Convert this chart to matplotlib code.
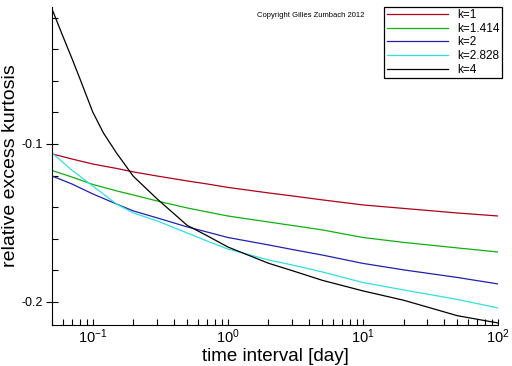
import numpy as np
import matplotlib
matplotlib.use("Agg")
import matplotlib.pyplot as plt
from matplotlib.ticker import MultipleLocator, LogLocator, FixedLocator

plt.rcParams["font.family"] = ["Liberation Sans", "DejaVu Sans"]
plt.rcParams["axes.unicode_minus"] = False
plt.rcParams["mathtext.default"] = "regular"

# time interval in days
dt = [0.05, 0.07, 0.1, 0.15, 0.2, 0.3, 0.5, 0.7, 1, 2, 3, 5, 10, 20, 50, 100]
dt_k4 = [0.05, 0.06, 0.07, 0.08, 0.1, 0.12, 0.15, 0.2, 0.3, 0.5, 0.7, 1, 2, 3,
         5, 10, 20, 50, 100]

# relative excess kurtosis for each k
k1 = [-0.1063, -0.1095, -0.1127, -0.1155, -0.1177, -0.1203, -0.1234, -0.1253,
      -0.1275, -0.1310, -0.1329, -0.1354, -0.1386, -0.1408, -0.1437, -0.1456]
k1414 = [-0.1168, -0.1209, -0.1256, -0.1297, -0.1323, -0.1361, -0.1405, -0.1430,
         -0.1456, -0.1494, -0.1516, -0.1544, -0.1592, -0.1623, -0.1658, -0.1684]
k2 = [-0.1203, -0.1253, -0.1316, -0.1380, -0.1424, -0.1468, -0.1525, -0.1557,
      -0.1592, -0.1639, -0.1668, -0.1703, -0.1756, -0.1797, -0.1845, -0.1886]
k2828 = [-0.1057, -0.1165, -0.1266, -0.1380, -0.1437, -0.1487, -0.1563, -0.1614,
         -0.1665, -0.1734, -0.1766, -0.1810, -0.1877, -0.1924, -0.1984, -0.2038]
k4 = [-0.0146, -0.0316, -0.0456, -0.0582, -0.0797, -0.0930, -0.1057, -0.1205,
      -0.1348, -0.1515, -0.1580, -0.1652, -0.1755, -0.1802, -0.1863, -0.1930,
      -0.1989, -0.2087, -0.2133]

labels = ["k=1", "k=1.414", "k=2", "k=2.828", "k=4"]
colors = ["#b0001a", "#10b010", "#2020b0", "#30e0e0", "black"]

fig = plt.figure(figsize=(5.12, 3.66), dpi=100)
ax = fig.add_axes([0.1016, 0.112, 0.871, 0.869])

xs = [dt, dt, dt, dt, dt_k4]
for x, y, lab, c in zip(xs, [k1, k1414, k2, k2828, k4], labels, colors):
    ax.plot(x, y, color=c, lw=0.9, label=lab)

ax.set_xscale("log")
ax.set_xlim(0.05, 100)
ax.set_ylim(-0.2146, -0.0133)

ax.yaxis.set_major_locator(FixedLocator([-0.2, -0.1]))
ax.yaxis.set_minor_locator(MultipleLocator(0.02))
ax.set_yticklabels(["-0.2", "-0.1"])
ax.xaxis.set_major_locator(FixedLocator([0.1, 1, 10, 100]))
ax.xaxis.set_minor_locator(LogLocator(base=10, subs=np.arange(2, 10)))
ax.set_xticklabels(["$10^{-1}$", "$10^{0}$", "$10^{1}$", "$10^{2}$"])

ax.spines["top"].set_visible(False)
ax.spines["right"].set_visible(False)
ax.tick_params(which="both", width=0.8)
ax.tick_params(axis="x", which="both", direction="in", length=4.5,
               labelsize=10.5, pad=2)
ax.tick_params(axis="y", which="major", direction="inout", length=9,
               labelsize=9, pad=2)
ax.tick_params(axis="y", which="minor", direction="in", length=4)

ax.set_xlabel("time interval [day]", fontsize=13.5)
ax.xaxis.set_label_coords(0.5, -0.071)
ax.set_ylabel("relative excess kurtosis", fontsize=14, labelpad=2)

leg = fig.legend(loc="upper right", bbox_to_anchor=(0.981, 0.982), fontsize=8.5,
                 frameon=True, fancybox=False, edgecolor="black", framealpha=1,
                 handlelength=5.2, handletextpad=0.8, labelspacing=0.15,
                 borderpad=0.2, borderaxespad=0)
leg.get_frame().set_linewidth(0.9)

fig.text(0.502, 0.958, "Copyright Gilles Zumbach 2012", fontsize=5.5, va="center")

fig.savefig("out.png", dpi=100)
